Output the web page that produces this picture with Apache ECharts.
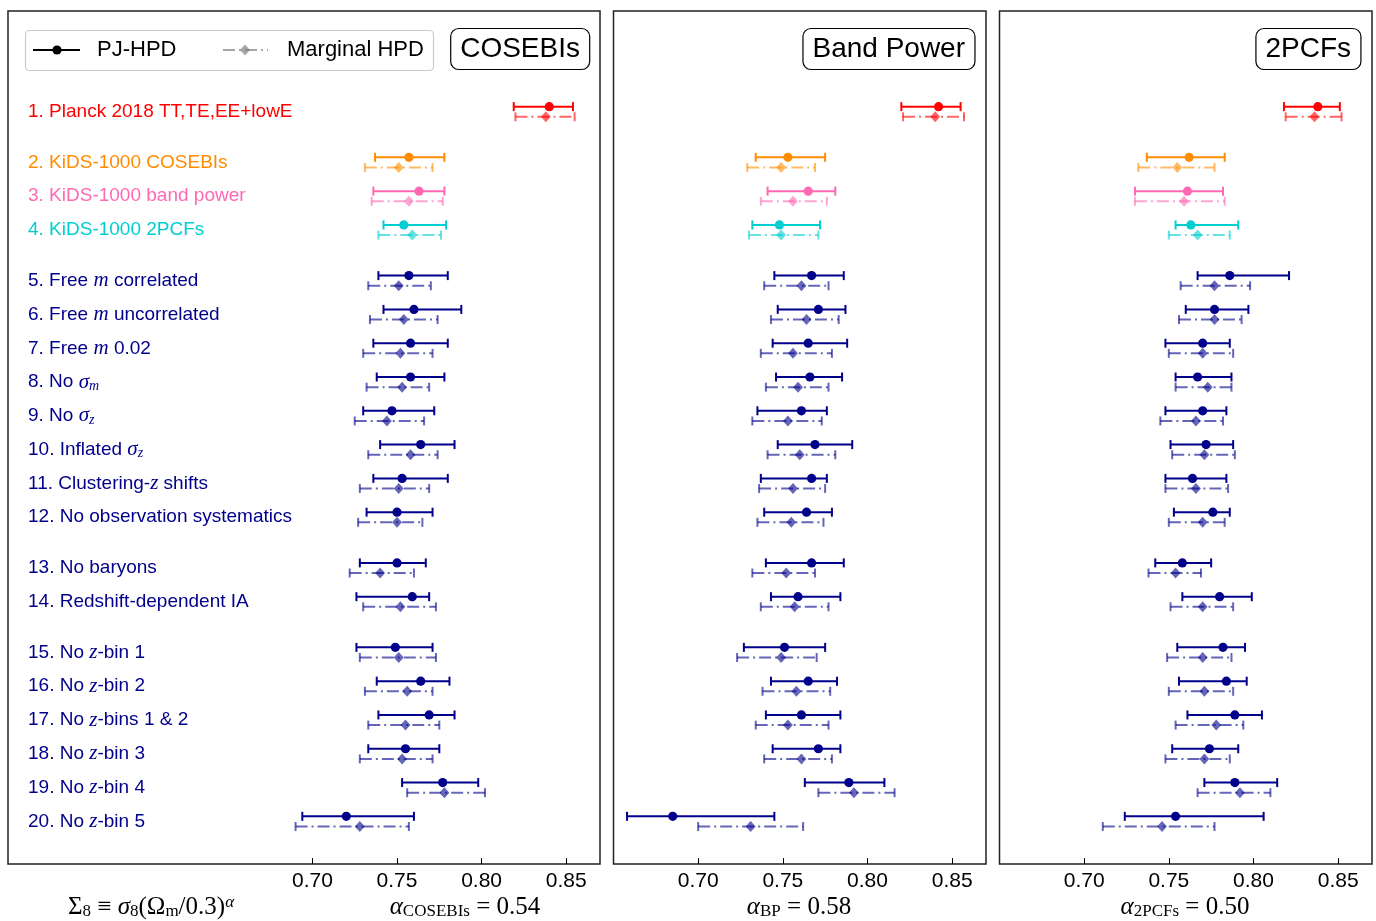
<!DOCTYPE html>
<html>
<head>
<meta charset="utf-8">
<script src="https://cdn.jsdelivr.net/npm/echarts@6/dist/echarts.min.js"></script>
<style>html,body{margin:0;padding:0;background:#fff;}#c{width:1376px;height:921px;}</style>
</head>
<body>
<div id="c"></div>
<script>
// ---- data ----
const rowLabels = [
  "1. Planck 2018 TT,TE,EE+lowE",
  "2. KiDS-1000 COSEBIs",
  "3. KiDS-1000 band power",
  "4. KiDS-1000 2PCFs",
  "5. Free {m|m} correlated",
  "6. Free {m|m} uncorrelated",
  "7. Free {m|m} 0.02",
  "8. No {m|σ}{s|m}",
  "9. No {m|σ}{s|z}",
  "10. Inflated {m|σ}{s|z}",
  "11. Clustering-{m|z} shifts",
  "12. No observation systematics",
  "13. No baryons",
  "14. Redshift-dependent IA",
  "15. No {m|z}-bin 1",
  "16. No {m|z}-bin 2",
  "17. No {m|z}-bins 1 & 2",
  "18. No {m|z}-bin 3",
  "19. No {m|z}-bin 4",
  "20. No {m|z}-bin 5"
];
const groupSizes = [1, 3, 8, 2, 6];
const rowColorNames = ["red","orange","pink","cyan","blue","blue","blue","blue","blue","blue","blue","blue","blue","blue","blue","blue","blue","blue","blue","blue"];
const panelTitles = ["COSEBIs", "Band Power", "2PCFs"];
const tickValues = [0.70, 0.75, 0.80, 0.85];

// [centre, low, high]
const cosebisPJ = [
[0.840,0.819,0.854],[0.757,0.737,0.778],[0.763,0.736,0.778],[0.754,0.742,0.779],
[0.757,0.739,0.780],[0.760,0.742,0.788],[0.758,0.736,0.780],[0.758,0.738,0.778],
[0.747,0.730,0.772],[0.764,0.740,0.784],[0.753,0.736,0.780],[0.750,0.732,0.771],
[0.750,0.728,0.767],[0.759,0.726,0.769],[0.749,0.726,0.771],[0.764,0.738,0.781],
[0.769,0.739,0.784],[0.755,0.733,0.775],[0.777,0.753,0.798],[0.720,0.694,0.760]];
const cosebisMarg = [
[0.838,0.820,0.855],[0.751,0.731,0.771],[0.757,0.735,0.777],[0.759,0.739,0.776],
[0.751,0.733,0.770],[0.754,0.734,0.774],[0.752,0.730,0.771],[0.753,0.732,0.769],
[0.744,0.725,0.766],[0.758,0.733,0.774],[0.751,0.728,0.769],[0.750,0.727,0.765],
[0.740,0.722,0.760],[0.752,0.730,0.773],[0.751,0.728,0.773],[0.756,0.731,0.771],
[0.755,0.733,0.775],[0.753,0.728,0.771],[0.778,0.756,0.802],[0.728,0.690,0.757]];
const bpPJ = [
[0.842,0.820,0.855],[0.753,0.734,0.775],[0.765,0.741,0.781],[0.748,0.732,0.772],
[0.767,0.745,0.786],[0.771,0.747,0.787],[0.765,0.744,0.788],[0.766,0.746,0.785],
[0.761,0.735,0.776],[0.769,0.747,0.791],[0.767,0.737,0.776],[0.764,0.739,0.779],
[0.767,0.740,0.786],[0.759,0.743,0.784],[0.751,0.727,0.775],[0.765,0.743,0.782],
[0.761,0.740,0.784],[0.771,0.744,0.784],[0.789,0.763,0.810],[0.685,0.658,0.745]];
const bpMarg = [
[0.840,0.821,0.857],[0.749,0.729,0.769],[0.756,0.737,0.776],[0.749,0.730,0.771],
[0.761,0.739,0.777],[0.764,0.743,0.783],[0.756,0.737,0.779],[0.759,0.740,0.777],
[0.753,0.732,0.773],[0.760,0.741,0.781],[0.756,0.736,0.775],[0.755,0.735,0.774],
[0.752,0.732,0.769],[0.757,0.737,0.777],[0.749,0.723,0.770],[0.758,0.738,0.778],
[0.753,0.734,0.777],[0.761,0.739,0.779],[0.792,0.771,0.816],[0.731,0.700,0.762]];
const pcfPJ = [
[0.838,0.818,0.851],[0.762,0.737,0.783],[0.761,0.730,0.782],[0.763,0.754,0.791],
[0.786,0.767,0.821],[0.777,0.760,0.797],[0.770,0.748,0.786],[0.767,0.754,0.787],
[0.770,0.748,0.784],[0.772,0.751,0.788],[0.764,0.748,0.784],[0.776,0.753,0.786],
[0.758,0.742,0.775],[0.780,0.758,0.799],[0.782,0.755,0.795],[0.784,0.756,0.796],
[0.789,0.761,0.805],[0.774,0.752,0.791],[0.789,0.771,0.814],[0.754,0.724,0.806]];
const pcfMarg = [
[0.836,0.819,0.852],[0.755,0.732,0.777],[0.759,0.730,0.783],[0.767,0.750,0.786],
[0.777,0.757,0.798],[0.777,0.756,0.793],[0.770,0.750,0.788],[0.773,0.754,0.787],
[0.766,0.745,0.782],[0.771,0.752,0.789],[0.766,0.748,0.785],[0.770,0.750,0.783],
[0.754,0.738,0.769],[0.770,0.751,0.788],[0.770,0.749,0.787],[0.771,0.750,0.788],
[0.778,0.754,0.794],[0.771,0.748,0.786],[0.792,0.767,0.810],[0.746,0.711,0.777]];

// ---- styling ----
const palette = {red:"#ff0000", orange:"#ff8c00", pink:"#ff69b4", cyan:"#00ced1", blue:"#00008b"};
const rowColors = rowColorNames.map(n => palette[n]);
const xRanges = [[0.52, 0.87], [0.65, 0.87], [0.65, 0.87]];
const gridBoxes = [
  {left: 8, top: 11, width: 592, height: 853},
  {left: 613.5, top: 11, width: 372.5, height: 853},
  {left: 999.5, top: 11, width: 372.5, height: 853}
];
const yMin = -2.83, yMax = 22.41;
const margOffset = 0.3, labelOffset = 0.15;
const dashDot = [12, 4, 2, 4];

// row positions with gaps between groups
const rowPos = [];
(function(){ let p = 0; groupSizes.forEach(g => { for (let k=0;k<g;k++){ rowPos.push(p); p+=1; } p += 0.5; }); })();

function makeRender(dashed) {
  return function(params, api) {
    const i = params.dataIndex;
    const y = api.value(3);
    const pC = api.coord([api.value(0), y]);
    const pL = api.coord([api.value(1), y]);
    const pH = api.coord([api.value(2), y]);
    const color = rowColors[i];
    const op = dashed ? 0.6 : 1;
    const cap = 4.5;
    const children = [
      {type:'line', shape:{x1:pL[0], y1:pL[1], x2:pH[0], y2:pH[1]},
       style:{stroke:color, lineWidth:2, opacity:op, lineDash: dashed ? dashDot : null}},
      {type:'line', shape:{x1:pL[0], y1:pL[1]-cap, x2:pL[0], y2:pL[1]+cap}, style:{stroke:color, lineWidth:2, opacity:op}},
      {type:'line', shape:{x1:pH[0], y1:pH[1]-cap, x2:pH[0], y2:pH[1]+cap}, style:{stroke:color, lineWidth:2, opacity:op}}
    ];
    if (dashed) {
      const r = 5.5;
      children.push({type:'polygon', shape:{points:[[pC[0],pC[1]-r],[pC[0]+r*0.9,pC[1]],[pC[0],pC[1]+r],[pC[0]-r*0.9,pC[1]]]},
        style:{fill:color, opacity:op}});
    } else {
      children.push({type:'circle', shape:{cx:pC[0], cy:pC[1], r:4.6}, style:{fill:color}});
    }
    return {type:'group', children};
  };
}

const panelData = [[cosebisPJ, cosebisMarg],[bpPJ, bpMarg],[pcfPJ, pcfMarg]];
const FONT = "'Liberation Sans', Arial, Helvetica, sans-serif";
const SERIF = "'Liberation Serif', 'DejaVu Serif', serif";

const grid = gridBoxes.map(b => Object.assign({show:true, borderColor:'#222', borderWidth:1.5, backgroundColor:'rgba(0,0,0,0)', containLabel:false}, b));
const xAxis = xRanges.map((r, k) => ({
  type:'value', gridIndex:k, min:r[0], max:r[1], position:'bottom',
  axisLine:{show:false, onZero:false}, splitLine:{show:false},
  axisTick:{show:true, inside:true, length:6, customValues:tickValues, lineStyle:{color:'#000', width:1}},
  axisLabel:{show:true, customValues:tickValues, margin:7, formatter:v=>v.toFixed(2), fontSize:21, color:'#000', fontFamily:FONT}
}));
const yAxis = [0,1,2].map(k => ({type:'value', gridIndex:k, min:yMin, max:yMax, inverse:true, show:false, axisLine:{onZero:false}}));

const series = [];
panelData.forEach((pd, k) => {
  series.push({type:'custom', xAxisIndex:k, yAxisIndex:k, renderItem:makeRender(true),
    encode:{x:[0,1,2], y:3}, data: pd[1].map((d,i)=>[d[0],d[1],d[2],rowPos[i]+margOffset]), z:2});
  series.push({type:'custom', xAxisIndex:k, yAxisIndex:k, renderItem:makeRender(false),
    encode:{x:[0,1,2], y:3}, data: pd[0].map((d,i)=>[d[0],d[1],d[2],rowPos[i]]), z:3});
});
series.push({
  type:'scatter', xAxisIndex:0, yAxisIndex:0, symbolSize:0, clip:false, silent:true,
  itemStyle:{opacity:1},
  data: rowLabels.map((t,i)=>({value:[xRanges[0][0], rowPos[i]+labelOffset], label:{color:rowColors[i]}})),
  label:{show:true, opacity:1, position:'right', distance:20, fontSize:19, fontFamily:FONT, lineHeight:22,
    formatter:p=>rowLabels[p.dataIndex],
    rich:{
      m:{fontFamily:SERIF, fontStyle:'italic', fontSize:21, lineHeight:22},
      s:{fontFamily:SERIF, fontStyle:'italic', fontSize:14, lineHeight:12, verticalAlign:'bottom'}
    }}
});

const titleRights = [786, 401, 15];
const title = panelTitles.map((t,k)=>({
  text:t, right:titleRights[k], top:28, padding:[7,10,7,10], borderColor:'#000', borderWidth:1.2, borderRadius:8,
  textStyle:{fontSize:28, fontWeight:'normal', color:'#000', fontFamily:FONT}
}));

const mathRich = {
  r:{fontFamily:SERIF, fontSize:25, lineHeight:26, fill:'#000'},
  i:{fontFamily:SERIF, fontStyle:'italic', fontSize:25, lineHeight:26, fill:'#000'},
  sub:{fontFamily:SERIF, fontSize:17, lineHeight:14, verticalAlign:'bottom', fill:'#000'},
  sup:{fontFamily:SERIF, fontStyle:'italic', fontSize:17, lineHeight:14, verticalAlign:'top', fill:'#000'}
};
const bottomTexts = [
  {text:'{r|Σ}{sub|8}{r| ≡ }{i|σ}{sub|8}{r|(Ω}{sub|m}{r|/0.3)}{sup|α}', x:68, align:'left'},
  {text:'{i|α}{sub|COSEBIs}{r| = 0.54}', x:465, align:'center'},
  {text:'{i|α}{sub|BP}{r| = 0.58}', x:799, align:'center'},
  {text:'{i|α}{sub|2PCFs}{r| = 0.50}', x:1185, align:'center'}
];
const graphic = bottomTexts.map(b=>({type:'text', x:b.x, y:907, style:{text:b.text, rich:mathRich, textAlign:b.align, textVerticalAlign:'middle', fill:'#000'}}));

// legend drawn with graphic primitives
graphic.push({type:'rect', shape:{x:25.5, y:30.5, width:408, height:40, r:4}, style:{fill:'rgba(255,255,255,0.8)', stroke:'#cccccc', lineWidth:1.2}, z:10});
graphic.push({type:'line', shape:{x1:33, y1:50, x2:80, y2:50}, style:{stroke:'#000', lineWidth:2}, z:11});
graphic.push({type:'circle', shape:{cx:57, cy:50, r:4.6}, style:{fill:'#000'}, z:11});
graphic.push({type:'text', x:97, y:50, style:{text:'PJ-HPD', font:"22px "+FONT, fill:'#000', textVerticalAlign:'middle'}, z:11});
graphic.push({type:'line', shape:{x1:223, y1:50, x2:268, y2:50}, style:{stroke:'#808080', lineWidth:2, lineDash:dashDot, opacity:0.7}, z:11});
graphic.push({type:'polygon', shape:{points:[[245,44.5],[250,50],[245,55.5],[240,50]]}, style:{fill:'#808080', opacity:0.7}, z:11});
graphic.push({type:'text', x:287, y:50, style:{text:'Marginal HPD', font:"22px "+FONT, fill:'#000', textVerticalAlign:'middle'}, z:11});

const chart = echarts.init(document.getElementById('c'), null, {renderer:'canvas'});
chart.setOption({animation:false, backgroundColor:'#fff', title, grid, xAxis, yAxis, series, graphic});
</script>
</body>
</html>
